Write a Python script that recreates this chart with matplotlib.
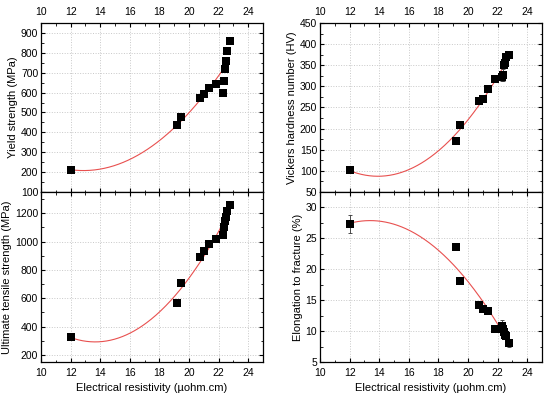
import numpy as np
import matplotlib
matplotlib.use("Agg")
import matplotlib.pyplot as plt
from matplotlib.ticker import MultipleLocator

plt.rcParams['font.family'] = ['Liberation Sans', 'DejaVu Sans']

resistivity = [12.0, 19.2, 19.47, 20.73, 21.02, 21.32, 21.84, 22.29, 22.38, 22.42, 22.5, 22.6, 22.74]
yield_strength = [210, 437, 477, 573, 593, 625, 643, 598, 660, 720, 760, 808, 857]
hardness = [101, 170, 208, 265, 271, 294, 317, 322, 327, 350, 355, 370, 374]
hardness_err = [3, 2, 4, 4, 4, 6, 5, 10, 14, 6, 6, 8, 8]
uts = [325, 563, 705, 889, 933, 986, 1017, 1046, 1102, 1145, 1176, 1217, 1255]
elongation = [27.3, 23.6, 18.1, 14.3, 13.6, 13.3, 10.4, 10.9, 10.3, 9.8, 9.3, 9.2, 8.1]
elong_err = [1.4, 0.3, 0.2, 0.2, 0.3, 0.3, 0.2, 0.9, 0.6, 0.4, 0.4, 0.4, 0.6]

x_label = "Electrical resistivity (\u00b5ohm.cm)"

fig = plt.figure(figsize=(5.5, 3.95), dpi=100)
W, H = 550, 395
def ax_at(l, t, r, b):
    return fig.add_axes([l / W, 1 - b / H, (r - l) / W, (b - t) / H])

ax_ys = ax_at(41, 23, 263, 192)
ax_uts = ax_at(41, 192, 263, 362)
ax_hv = ax_at(320, 23, 542, 192)
ax_el = ax_at(320, 192, 542, 362)

x = np.array(resistivity)
xf = np.linspace(x.min(), x.max(), 200)

def panel(ax, y, err, ylim, ymaj, ylabel, top):
    y = np.array(y, dtype=float)
    c = np.polyfit(x, y, 2)
    ax.plot(xf, np.polyval(c, xf), color='#e8504f', lw=0.8, zorder=2)
    if err is not None:
        ax.errorbar(x, y, yerr=err, fmt='none', ecolor='#333333', elinewidth=0.6, capsize=1.5, capthick=0.6, zorder=3)
    ax.scatter(x, y, marker='s', s=26, color='black', zorder=4, linewidths=0)
    ax.set_xlim(10, 25)
    ax.set_ylim(*ylim)
    ax.xaxis.set_major_locator(MultipleLocator(2))
    ax.xaxis.set_minor_locator(MultipleLocator(1))
    ax.yaxis.set_major_locator(MultipleLocator(ymaj))
    ax.yaxis.set_minor_locator(MultipleLocator(ymaj / 2))
    ax.grid(True, which='major', color='#c8c8c8', ls=':', lw=0.7)
    ax.tick_params(which='both', direction='in', top=True, right=True, labelsize=7.5)
    ax.tick_params(axis='y', pad=2)
    ax.tick_params(axis='x', pad=4)
    ax.tick_params(which='major', length=3, width=0.8)
    ax.tick_params(which='minor', length=1.8, width=0.6)
    if top:
        ax.tick_params(labeltop=True, labelbottom=False)
    else:
        ax.set_xlabel(x_label, fontsize=8, labelpad=4)
    ax.set_ylabel(ylabel, fontsize=8, labelpad=2)
    for s in ax.spines.values():
        s.set_linewidth(0.9)

panel(ax_ys, yield_strength, None, (100, 950), 100, "Yield strength (MPa)", True)
panel(ax_uts, uts, None, (150, 1350), 200, "Ultimate tensile strength (MPa)", False)
panel(ax_hv, hardness, hardness_err, (50, 450), 50, "Vickers hardness number (HV)", True)
panel(ax_el, elongation, elong_err, (5, 32.5), 5, "Elongation to fracture (%)", False)

fig.savefig("out.png", dpi=100)
